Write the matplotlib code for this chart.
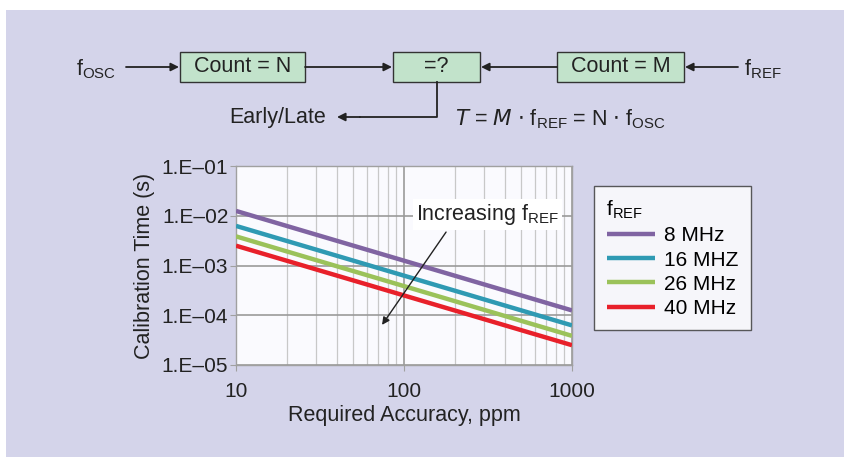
import matplotlib

matplotlib.use("Agg")
import matplotlib.pyplot as plt
from matplotlib.patches import Rectangle
from matplotlib.ticker import LogLocator, FixedLocator, NullFormatter

plt.rcParams["font.family"] = ["Liberation Sans", "DejaVu Sans"]

# data: calibration time T = 1 / (accuracy * f_ref)
accuracy_ppm = [10, 100, 1000]
series_names = ["8 MHz", "16 MHZ", "26 MHz", "40 MHz"]
t_8mhz = [1.25e-2, 1.25e-3, 1.25e-4]
t_16mhz = [6.25e-3, 6.25e-4, 6.25e-5]
t_26mhz = [3.85e-3, 3.85e-4, 3.85e-5]
t_40mhz = [2.5e-3, 2.5e-4, 2.5e-5]
series_colors = ["#8064a2", "#2f9ab3", "#9bc25a", "#e8202a"]
y_ticks = [1e-5, 1e-4, 1e-3, 1e-2, 1e-1]
y_tick_labels = ["1.E\u201305", "1.E\u201304", "1.E\u201303", "1.E\u201302", "1.E\u201301"]
x_ticks = [10, 100, 1000]

W, H = 844, 457
BG = "#d4d4ea"
BOX = "#c2e3cb"
INK = "#222222"

fig = plt.figure(figsize=(W / 100, H / 100), dpi=100)
fig.patch.set_facecolor("white")

# overlay in pixel coordinates for the block diagram
ov = fig.add_axes([0, 0, 1, 1], zorder=0)
ov.set_xlim(0, W)
ov.set_ylim(H, 0)
ov.axis("off")
ov.add_patch(Rectangle((6, 10), W - 6, H - 10, facecolor=BG, edgecolor="none"))

fs = 15.5
for x0, x1, label in [(180, 305, "Count = N"), (393, 480, "=?"), (557, 684, "Count = M")]:
    ov.add_patch(Rectangle((x0, 52), x1 - x0, 30, facecolor=BOX,
                           edgecolor="#333333", lw=1.0))
    ov.text((x0 + x1) / 2, 67, label, ha="center", va="center", fontsize=fs,
            color=INK)

arrow = dict(arrowstyle="-|>", color=INK, lw=1.3, mutation_scale=12,
             shrinkA=0, shrinkB=0)
ov.annotate("", xy=(179, 67), xytext=(126, 67), arrowprops=arrow)
ov.annotate("", xy=(392, 67), xytext=(305, 67), arrowprops=arrow)
ov.annotate("", xy=(481, 67), xytext=(557, 67), arrowprops=arrow)
ov.annotate("", xy=(685, 67), xytext=(738, 67), arrowprops=arrow)
ov.plot([437, 437, 360], [82, 117, 117], color=INK, lw=1.3)
ov.annotate("", xy=(337, 117), xytext=(360, 117), arrowprops=arrow)

ov.text(76, 69, r"f$_{\mathregular{OSC}}$", ha="left", va="center", fontsize=fs,
        color=INK)
ov.text(744, 69, r"f$_{\mathregular{REF}}$", ha="left", va="center", fontsize=fs,
        color=INK)
ov.text(326, 117, "Early/Late", ha="right", va="center", fontsize=fs,
        color=INK)
ov.text(455, 119,
        r"$T$ = $M$ $\cdot$ f$_{\mathregular{REF}}$ = N $\cdot$ f$_{\mathregular{OSC}}$",
        ha="left", va="center", fontsize=fs, color=INK)

# chart
ax = fig.add_axes([236 / W, 1 - 365 / H, 336 / W, 199 / H], zorder=2)
ax.set_facecolor("#fafafe")
ax.set_xscale("log")
ax.set_yscale("log")
ax.set_xlim(10, 1000)
ax.set_ylim(1e-5, 1e-1)

lines = []
for name, vals, c in zip(series_names, [t_8mhz, t_16mhz, t_26mhz, t_40mhz],
                         series_colors):
    (ln,) = ax.plot(accuracy_ppm, vals, color=c, lw=3.2, label=name,
                    solid_capstyle="butt", zorder=3)
    lines.append(ln)

ax.xaxis.set_major_locator(FixedLocator(x_ticks))
ax.set_xticklabels([str(v) for v in x_ticks])
ax.xaxis.set_minor_locator(LogLocator(base=10, subs=range(2, 10)))
ax.xaxis.set_minor_formatter(NullFormatter())
ax.yaxis.set_major_locator(FixedLocator(y_ticks))
ax.set_yticklabels(y_tick_labels)
ax.yaxis.set_minor_locator(FixedLocator([]))
ax.grid(which="major", color="#9a9a9a", lw=1.2)
ax.grid(which="minor", axis="x", color="#c8c8c8", lw=0.9)
ax.set_axisbelow(True)
for s in ax.spines.values():
    s.set_color("#a0a0a0")
    s.set_linewidth(1.0)
ax.tick_params(which="major", length=4, color="#a0a0a0", labelsize=15,
               labelcolor=INK)
ax.tick_params(axis="x", pad=8)
ax.tick_params(axis="y", pad=1.5)
ax.tick_params(which="minor", length=0)
ax.set_xlabel("Required Accuracy, ppm", fontsize=15.5, color=INK, labelpad=3)
ax.set_ylabel("Calibration Time (s)", fontsize=15.5, color=INK, labelpad=5)

ax.annotate("", xy=(74, 6.4e-5), xytext=(178, 4.7e-3),
            arrowprops=dict(arrowstyle="-|>", color=INK, lw=1.0,
                            mutation_scale=11, shrinkA=0, shrinkB=0), zorder=5)
ax.text(314, 1.05e-2, r"Increasing f$_{\mathregular{REF}}$", ha="center",
        va="center", fontsize=15.5, color=INK, zorder=6,
        bbox=dict(facecolor="white", edgecolor="none", pad=2))

leg = fig.legend(handles=lines, loc="upper left",
                 bbox_to_anchor=(594 / W, 1 - 186 / H),
                 title=r"f$_{\mathregular{REF}}$", fontsize=15,
                 title_fontsize=15, frameon=True, fancybox=False,
                 handlelength=2.35, handletextpad=0.4, labelspacing=0.25,
                 borderpad=0.6, borderaxespad=0)
leg.get_frame().set_edgecolor("#333333")
leg.get_frame().set_linewidth(1.0)
leg.get_frame().set_facecolor("white")
leg._legend_box.align = "left"
for h in leg.legend_handles:
    h.set_linewidth(3.2)

fig.savefig("out.png", dpi=100, facecolor="white")
